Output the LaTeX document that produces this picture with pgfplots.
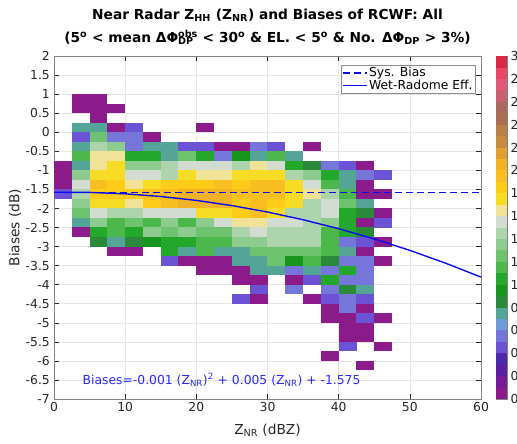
\documentclass[border=0pt]{standalone}
\usepackage{fontspec}
\setmainfont{DejaVu Sans}
\usepackage{pgfplots}
\pgfplotsset{compat=1.18}

\definecolor{axgray}{RGB}{38,38,38}
\definecolor{spine}{RGB}{130,130,130}
\definecolor{gridgray}{RGB}{230,230,230}
\definecolor{fitblue}{RGB}{10,10,240}
\definecolor{txtblue}{RGB}{40,40,255}

% one histogram bin (2.5 dBZ x 0.25 dB at the axis scale used below)
\pgfdeclareplotmark{cell}{%
  \pgfpathrectangle{\pgfpoint{-8.95bp}{-4.82bp}}{\pgfpoint{17.9bp}{9.64bp}}%
  \pgfusepathqfill}
% one colorbar step (0.1 of 3)
\pgfdeclareplotmark{cbcell}{%
  \pgfpathrectangle{\pgfpoint{-5.5bp}{-5.8bp}}{\pgfpoint{11bp}{11.6bp}}%
  \pgfusepathqfill}

\tikzset{fnt/.style={font=\fontsize{12.4}{14}\selectfont}}
\pgfplotsset{
  colormap={rcwf}{
    rgb255=(139,26,139) rgb255=(118,26,150) rgb255=(90,32,160) rgb255=(78,42,170)
    rgb255=(108,82,212) rgb255=(118,118,218) rgb255=(110,156,216) rgb255=(84,164,152)
    rgb255=(42,138,58) rgb255=(22,150,28) rgb255=(36,168,44) rgb255=(76,184,76)
    rgb255=(110,196,110) rgb255=(142,203,142) rgb255=(174,212,174) rgb255=(210,220,208)
    rgb255=(240,226,150) rgb255=(246,220,36) rgb255=(252,204,24) rgb255=(248,190,34)
    rgb255=(242,178,38) rgb255=(224,160,48) rgb255=(200,140,64) rgb255=(184,128,72)
    rgb255=(168,112,80) rgb255=(172,104,92) rgb255=(200,96,112) rgb255=(224,88,122)
    rgb255=(232,72,104) rgb255=(216,40,72)},
  % colour step 0..29 hits the 30 colours exactly
  steps/.style={colormap name=rcwf, point meta min=0, point meta max=29},
}

\newcommand{\supsub}[2]{\makebox[0pt][l]{\textsubscript{#2}}\textsuperscript{#1}}

\begin{document}
\begin{tikzpicture}
\begin{axis}[name=ax, scale only axis, width=427bp, height=343bp,
  xmin=0, xmax=60, ymin=-7, ymax=2,
  xtick={0,10,20,30,40,50,60},
  ytick={-7,-6.5,-6,-5.5,-5,-4.5,-4,-3.5,-3,-2.5,-2,-1.5,-1,-0.5,0,0.5,1,1.5,2},
  grid=major, grid style={gridgray, line width=0.5pt},
  axis line style={spine, line width=0.5pt},
  tick style={axgray, line width=0.5pt}, tick align=inside, major tick length=5bp,
  tick label style={fnt, text=axgray},
  yticklabel style={inner sep=0pt, xshift=-4bp},
  /pgf/number format/assume math mode=true,
  xlabel={Z\textsubscript{NR} (dBZ)}, ylabel={Biases (dB)},
  label style={font=\fontsize{13.8}{16}\selectfont, text=axgray},
  xlabel style={at={([yshift=-31bp]rel axis cs:0.5,0)}, anchor=center},
  ylabel style={at={([xshift=-39bp]rel axis cs:0,0.5)}, anchor=center},
  steps,
  title={Near Radar Z\textsubscript{HH} (Z\textsubscript{NR}) and Biases of RCWF: All\\
    (5\textsuperscript{o} < mean ΔΦ\supsub{obs}{DP} < 30\textsuperscript{o} \& EL. < 5\textsuperscript{o} \& No. ΔΦ\textsubscript{DP} > 3\%)},
  title style={font=\bfseries\fontsize{13.8}{23}\selectfont, align=center,
    at={(0.5,1)}, anchor=south, yshift=2bp},
  legend style={at={(1,1)}, anchor=north east, xshift=-6bp, yshift=-9bp,
    draw=black!45, fill=white, fnt, inner xsep=1bp, inner ysep=1bp,
    nodes={inner sep=1.2bp}, row sep=-0.5bp, cells={anchor=west}},
  legend image code/.code={\draw[#1] (0bp,0bp) -- (24bp,0bp);},
]
% 2-D histogram: bin centre (dBZ), bin centre (dB), colour step (0..29 = 0..3)
\addplot[scatter, only marks, mark=cell, point meta=explicit, clip marker paths=true,
  scatter/use mapped color={draw=none, fill=mapped color}, forget plot]
  table[row sep=\\, meta index=2] {x y c\\
3.75 0.875 0\\ 6.25 0.875 0\\
3.75 0.625 0\\ 6.25 0.625 0\\ 8.75 0.625 0\\
6.25 0.375 0\\
3.75 0.125 7\\ 6.25 0.125 7\\ 8.75 0.125 0\\ 11.25 0.125 4\\ 21.25 0.125 0\\
3.75 -0.125 4\\ 6.25 -0.125 12\\ 8.75 -0.125 5\\ 11.25 -0.125 5\\ 13.75 -0.125 0\\
3.75 -0.375 7\\ 6.25 -0.375 14\\ 8.75 -0.375 13\\ 11.25 -0.375 5\\ 13.75 -0.375 7\\ 16.25 -0.375 7\\ 18.75 -0.375 4\\ 21.25 -0.375 4\\ 23.75 -0.375 0\\ 26.25 -0.375 0\\ 28.75 -0.375 5\\ 31.25 -0.375 4\\ 36.25 -0.375 0\\
3.75 -0.625 11\\ 6.25 -0.625 16\\ 8.75 -0.625 16\\ 11.25 -0.625 10\\ 13.75 -0.625 10\\ 16.25 -0.625 7\\ 18.75 -0.625 12\\ 21.25 -0.625 10\\ 23.75 -0.625 5\\ 26.25 -0.625 9\\ 28.75 -0.625 7\\ 31.25 -0.625 11\\ 33.75 -0.625 7\\
1.25 -0.875 0\\ 3.75 -0.875 7\\ 6.25 -0.875 16\\ 8.75 -0.875 17\\ 11.25 -0.875 13\\ 13.75 -0.875 13\\ 16.25 -0.875 14\\ 18.75 -0.875 15\\ 21.25 -0.875 15\\ 23.75 -0.875 15\\ 26.25 -0.875 14\\ 28.75 -0.875 16\\ 31.25 -0.875 15\\ 33.75 -0.875 10\\ 36.25 -0.875 8\\ 38.75 -0.875 5\\ 41.25 -0.875 4\\ 43.75 -0.875 0\\
1.25 -1.125 0\\ 3.75 -1.125 13\\ 6.25 -1.125 17\\ 8.75 -1.125 17\\ 11.25 -1.125 15\\ 13.75 -1.125 15\\ 16.25 -1.125 14\\ 18.75 -1.125 17\\ 21.25 -1.125 16\\ 23.75 -1.125 16\\ 26.25 -1.125 17\\ 28.75 -1.125 17\\ 31.25 -1.125 17\\ 33.75 -1.125 14\\ 36.25 -1.125 13\\ 38.75 -1.125 10\\ 41.25 -1.125 7\\ 43.75 -1.125 5\\ 46.25 -1.125 4\\
1.25 -1.375 0\\ 3.75 -1.375 15\\ 6.25 -1.375 19\\ 8.75 -1.375 18\\ 11.25 -1.375 16\\ 13.75 -1.375 17\\ 16.25 -1.375 18\\ 18.75 -1.375 18\\ 21.25 -1.375 18\\ 23.75 -1.375 19\\ 26.25 -1.375 18\\ 28.75 -1.375 19\\ 31.25 -1.375 19\\ 33.75 -1.375 17\\ 36.25 -1.375 15\\ 38.75 -1.375 11\\ 41.25 -1.375 7\\ 43.75 -1.375 0\\
1.25 -1.625 4\\ 3.75 -1.625 14\\ 6.25 -1.625 18\\ 8.75 -1.625 18\\ 11.25 -1.625 18\\ 13.75 -1.625 19\\ 16.25 -1.625 19\\ 18.75 -1.625 20\\ 21.25 -1.625 20\\ 23.75 -1.625 20\\ 26.25 -1.625 19\\ 28.75 -1.625 19\\ 31.25 -1.625 19\\ 33.75 -1.625 17\\ 36.25 -1.625 16\\ 38.75 -1.625 14\\ 41.25 -1.625 11\\ 43.75 -1.625 0\\ 46.25 -1.625 0\\
3.75 -1.875 13\\ 6.25 -1.875 17\\ 8.75 -1.875 17\\ 11.25 -1.875 16\\ 13.75 -1.875 18\\ 16.25 -1.875 19\\ 18.75 -1.875 20\\ 21.25 -1.875 20\\ 23.75 -1.875 20\\ 26.25 -1.875 18\\ 28.75 -1.875 19\\ 31.25 -1.875 18\\ 33.75 -1.875 17\\ 36.25 -1.875 14\\ 38.75 -1.875 15\\ 41.25 -1.875 12\\ 43.75 -1.875 7\\
3.75 -2.125 12\\ 6.25 -2.125 15\\ 8.75 -2.125 14\\ 11.25 -2.125 14\\ 13.75 -2.125 15\\ 16.25 -2.125 15\\ 18.75 -2.125 15\\ 21.25 -2.125 17\\ 23.75 -2.125 17\\ 26.25 -2.125 18\\ 28.75 -2.125 19\\ 31.25 -2.125 17\\ 33.75 -2.125 14\\ 36.25 -2.125 14\\ 38.75 -2.125 15\\ 41.25 -2.125 10\\ 43.75 -2.125 8\\ 46.25 -2.125 0\\
3.75 -2.375 7\\ 6.25 -2.375 13\\ 8.75 -2.375 11\\ 11.25 -2.375 12\\ 13.75 -2.375 11\\ 16.25 -2.375 13\\ 18.75 -2.375 11\\ 21.25 -2.375 13\\ 23.75 -2.375 15\\ 26.25 -2.375 16\\ 28.75 -2.375 16\\ 31.25 -2.375 15\\ 33.75 -2.375 15\\ 36.25 -2.375 14\\ 38.75 -2.375 13\\ 41.25 -2.375 10\\ 43.75 -2.375 0\\ 46.25 -2.375 4\\
3.75 -2.625 0\\ 6.25 -2.625 10\\ 8.75 -2.625 11\\ 11.25 -2.625 10\\ 13.75 -2.625 13\\ 16.25 -2.625 12\\ 18.75 -2.625 13\\ 21.25 -2.625 12\\ 23.75 -2.625 12\\ 26.25 -2.625 14\\ 28.75 -2.625 15\\ 31.25 -2.625 14\\ 33.75 -2.625 14\\ 36.25 -2.625 14\\ 38.75 -2.625 11\\ 41.25 -2.625 10\\ 43.75 -2.625 8\\
6.25 -2.875 8\\ 8.75 -2.875 7\\ 11.25 -2.875 8\\ 13.75 -2.875 9\\ 16.25 -2.875 10\\ 18.75 -2.875 10\\ 21.25 -2.875 11\\ 23.75 -2.875 11\\ 26.25 -2.875 13\\ 28.75 -2.875 13\\ 31.25 -2.875 14\\ 33.75 -2.875 14\\ 36.25 -2.875 14\\ 38.75 -2.875 11\\ 41.25 -2.875 5\\ 43.75 -2.875 4\\ 46.25 -2.875 0\\
8.75 -3.125 0\\ 11.25 -3.125 0\\ 16.25 -3.125 10\\ 18.75 -3.125 7\\ 21.25 -3.125 11\\ 23.75 -3.125 7\\ 26.25 -3.125 7\\ 28.75 -3.125 12\\ 31.25 -3.125 12\\ 33.75 -3.125 12\\ 36.25 -3.125 12\\ 38.75 -3.125 11\\ 41.25 -3.125 7\\ 43.75 -3.125 0\\
16.25 -3.375 4\\ 18.75 -3.375 0\\ 21.25 -3.375 0\\ 23.75 -3.375 0\\ 26.25 -3.375 7\\ 28.75 -3.375 7\\ 31.25 -3.375 12\\ 33.75 -3.375 9\\ 36.25 -3.375 11\\ 38.75 -3.375 8\\ 41.25 -3.375 5\\ 43.75 -3.375 5\\ 46.25 -3.375 0\\
21.25 -3.625 0\\ 23.75 -3.625 0\\ 26.25 -3.625 0\\ 28.75 -3.625 7\\ 31.25 -3.625 7\\ 33.75 -3.625 5\\ 36.25 -3.625 7\\ 38.75 -3.625 5\\ 41.25 -3.625 10\\ 43.75 -3.625 5\\
26.25 -3.875 0\\ 28.75 -3.875 0\\ 33.75 -3.875 0\\ 36.25 -3.875 4\\ 38.75 -3.875 10\\ 41.25 -3.875 5\\ 43.75 -3.875 5\\
28.75 -4.125 4\\ 33.75 -4.125 5\\ 38.75 -4.125 5\\ 41.25 -4.125 8\\ 43.75 -4.125 7\\
26.25 -4.375 4\\ 28.75 -4.375 0\\ 36.25 -4.375 0\\ 38.75 -4.375 4\\ 41.25 -4.375 5\\ 43.75 -4.375 4\\
38.75 -4.625 0\\ 41.25 -4.625 5\\ 43.75 -4.625 0\\
38.75 -4.875 0\\ 41.25 -4.875 0\\ 43.75 -4.875 4\\ 46.25 -4.875 0\\
41.25 -5.125 0\\ 43.75 -5.125 0\\
41.25 -5.375 0\\ 43.75 -5.375 0\\
41.25 -5.625 4\\ 46.25 -5.625 0\\
38.75 -5.875 0\\
43.75 -6.125 0\\
};
\addplot[fitblue, line width=1.5pt, dash pattern=on 6.5bp off 4.5bp]
  coordinates {(0,-1.575) (60,-1.575)};
\addlegendentry{Sys. Bias}
\addplot[fitblue, line width=1.4pt]
  coordinates {(0,-1.575) (5,-1.579) (10,-1.616) (15,-1.686) (20,-1.789)
    (25,-1.925) (30,-2.094) (35,-2.296) (40,-2.531) (45,-2.799)
    (50,-3.100) (55,-3.434) (60,-3.801)};
\addlegendentry{Wet-Radome Eff.}
\node[anchor=west, fnt, text=txtblue, inner sep=0pt] at (axis cs:4,-6.5)
  {Biases=-0.001 (Z\textsubscript{NR})\textsuperscript{2} + 0.005 (Z\textsubscript{NR}) + -1.575};
\end{axis}

% colorbar, cut by the right edge of the picture as in the reference
\begin{axis}[at={(ax.north east)}, anchor=north west, xshift=15bp,
  scale only axis, width=11bp, height=343bp,
  xmin=0, xmax=1, ymin=0, ymax=3, xtick=\empty,
  ytick={0,0.2,0.4,0.6,0.8,1,1.2,1.4,1.6,1.8,2,2.2,2.4,2.6,2.8,3},
  yticklabel pos=right, tick align=inside, major tick length=2bp,
  axis line style={spine, line width=0.5pt}, tick style={axgray},
  tick label style={fnt, text=axgray},
  /pgf/number format/assume math mode=true,
  steps]
\addplot[scatter, only marks, mark=cbcell, point meta=explicit, clip marker paths=true,
  scatter/use mapped color={draw=none, fill=mapped color}]
  table[row sep=\\, meta index=2] {x y c\\
0.5 0.05 0\\ 0.5 0.15 1\\ 0.5 0.25 2\\ 0.5 0.35 3\\ 0.5 0.45 4\\ 0.5 0.55 5\\
0.5 0.65 6\\ 0.5 0.75 7\\ 0.5 0.85 8\\ 0.5 0.95 9\\ 0.5 1.05 10\\ 0.5 1.15 11\\
0.5 1.25 12\\ 0.5 1.35 13\\ 0.5 1.45 14\\ 0.5 1.55 15\\ 0.5 1.65 16\\ 0.5 1.75 17\\
0.5 1.85 18\\ 0.5 1.95 19\\ 0.5 2.05 20\\ 0.5 2.15 21\\ 0.5 2.25 22\\ 0.5 2.35 23\\
0.5 2.45 24\\ 0.5 2.55 25\\ 0.5 2.65 26\\ 0.5 2.75 27\\ 0.5 2.85 28\\ 0.5 2.95 29\\
};
\end{axis}

\pgfresetboundingbox
\path[use as bounding box] ([xshift=-54bp,yshift=-44bp]ax.south west)
  rectangle ([xshift=36bp,yshift=56bp]ax.north east);
\end{tikzpicture}
\end{document}
